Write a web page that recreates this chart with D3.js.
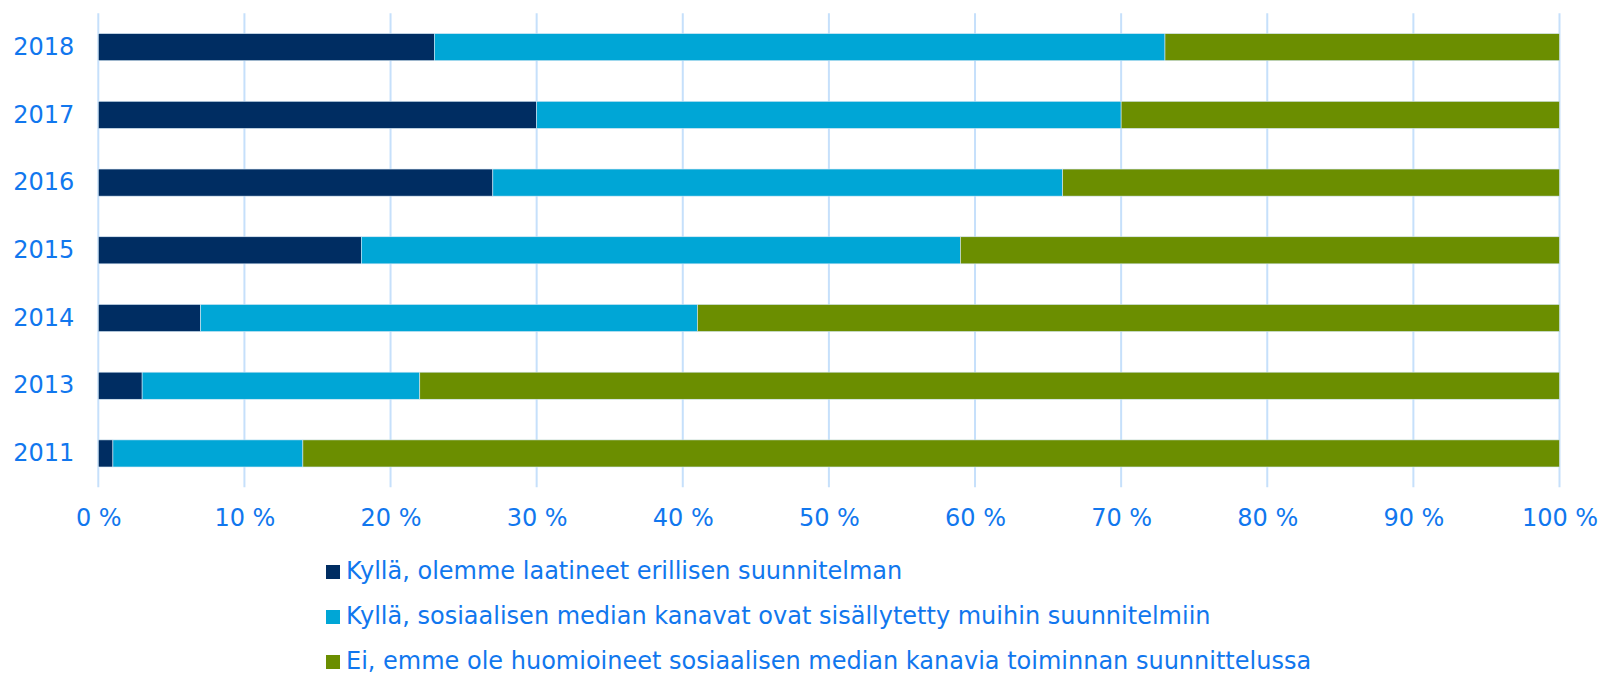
<!DOCTYPE html>
<html>
<head>
<meta charset="utf-8">
<script src="https://cdn.jsdelivr.net/npm/d3@7"></script>
<style>
  body { margin: 0; background: #fff; }
  text { font-family: "DejaVu Sans", Verdana, sans-serif; }
</style>
</head>
<body>
<div id="wrapper"></div>
<script>
// data (percent shares per year)
const years = ["2018", "2017", "2016", "2015", "2014", "2013", "2011"];
const separatePlan = [23, 30, 27, 18, 7, 3, 1];
const inOtherPlans = [50, 40, 39, 41, 34, 19, 13];
const notConsidered = [27, 30, 34, 41, 59, 78, 86];
const seriesNames = [
    "Kyllä, olemme laatineet erillisen suunnitelman",
    "Kyllä, sosiaalisen median kanavat ovat sisällytetty muihin suunnitelmiin",
    "Ei, emme ole huomioineet sosiaalisen median kanavia toiminnan suunnittelussa"
];
const seriesColors = ["#002d62", "#00a6d6", "#6b8e00"];
const xTicks = [0, 10, 20, 30, 40, 50, 60, 70, 80, 90, 100];

const textColor = "#1177ee";
const gridColor = "#c6e0fb";

var dimension = {
    width: 1603,
    height: 674,
    margin: { top: 13.3, left: 98.3, bottom: 186.7, right: 43.5 }
};
dimension.boundedWidth = dimension.width - dimension.margin.left - dimension.margin.right;
dimension.boundedHeight = dimension.height - dimension.margin.top - dimension.margin.bottom;

const svg = d3.select("#wrapper").append("svg")
    .attr("width", dimension.width)
    .attr("height", dimension.height);

const bounded = svg.append("g")
    .attr("transform", `translate(${dimension.margin.left},${dimension.margin.top})`);

const xScaler = d3.scaleLinear()
    .domain([0, 100])
    .range([0, dimension.boundedWidth]);

const yScaler = d3.scaleBand()
    .domain(years)
    .range([0, dimension.boundedHeight])
    .paddingInner(0.6)
    .paddingOuter(0.3);

// gridlines
bounded.append("g")
    .selectAll("line")
    .data(xTicks)
    .join("line")
    .attr("x1", d => xScaler(d))
    .attr("x2", d => xScaler(d))
    .attr("y1", 0)
    .attr("y2", dimension.boundedHeight)
    .attr("stroke", gridColor)
    .attr("stroke-width", 2);

// stacked bars
const rows = years.map((y, i) => ({
    year: y,
    s0: separatePlan[i],
    s1: inOtherPlans[i],
    s2: notConsidered[i]
}));
const stacked = d3.stack().keys(["s0", "s1", "s2"])(rows);

bounded.append("g")
    .selectAll("g")
    .data(stacked)
    .join("g")
    .attr("fill", (d, i) => seriesColors[i])
    .selectAll("rect")
    .data(d => d)
    .join("rect")
    .attr("x", d => xScaler(d[0]))
    .attr("width", d => xScaler(d[1]) - xScaler(d[0]))
    .attr("y", d => yScaler(d.data.year))
    .attr("height", yScaler.bandwidth())
    .attr("stroke", "#d6e8f6")
    .attr("stroke-width", 0.6);

// y axis labels
const y_axis = d3.axisLeft(yScaler).tickSize(0).tickPadding(24);
const yG = bounded.append("g").call(y_axis);
yG.select(".domain").remove();
yG.selectAll("text")
    .attr("fill", textColor)
    .style("font-size", "24px");

// x axis labels
const x_axis = d3.axisBottom(xScaler)
    .tickValues(xTicks)
    .tickSize(0)
    .tickPadding(22)
    .tickFormat(d => d + " %");
const xG = bounded.append("g")
    .attr("transform", `translate(0,${dimension.boundedHeight})`)
    .call(x_axis);
xG.select(".domain").remove();
xG.selectAll("text")
    .attr("fill", textColor)
    .style("font-size", "24px");

// legend
const legend = svg.append("g")
    .attr("transform", "translate(326,565)");
const items = legend.selectAll("g")
    .data(seriesNames)
    .join("g")
    .attr("transform", (d, i) => `translate(0,${i * 45})`);
items.append("rect")
    .attr("width", 14)
    .attr("height", 14)
    .attr("fill", (d, i) => seriesColors[i]);
items.append("text")
    .attr("x", 20)
    .attr("y", 14)
    .attr("fill", textColor)
    .style("font-size", "24px")
    .text(d => d);
</script>
</body>
</html>
